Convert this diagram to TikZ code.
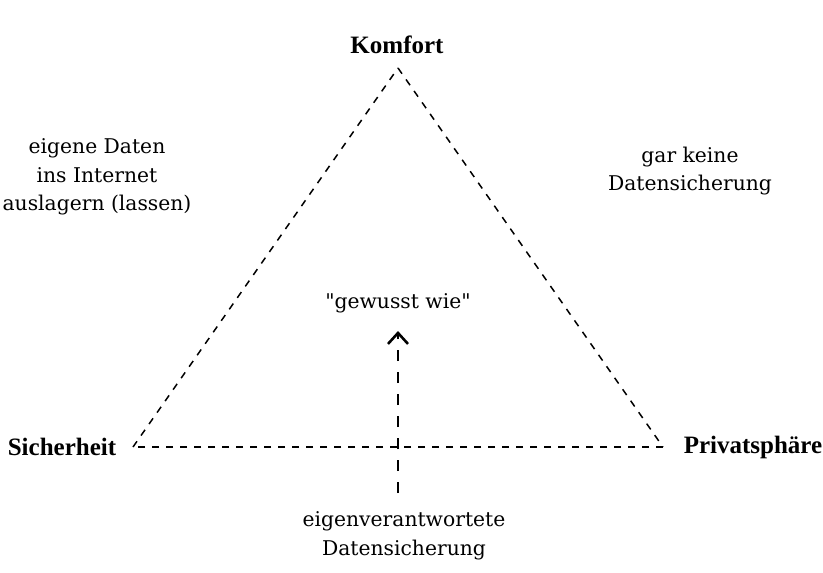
\documentclass[tikz,border=0pt]{standalone}
\usepackage{fontspec}
\setmainfont{DejaVu Serif}[Ligatures=TeXOff]
\newfontfamily\boldlab{Liberation Serif}
\usetikzlibrary{arrows.meta}
\tikzset{
  lab/.style={font=\fontsize{20.3}{28.5}\selectfont, align=center, inner sep=0pt},
  corner/.style={font=\boldlab\bfseries\fontsize{25}{30}\selectfont, inner sep=0pt},
  edge/.style={line width=1.5pt, dash pattern=on 7pt off 7pt},
  uparrow/.style={line width=2.6pt, dash pattern=on 11pt off 11pt, -{Straight Barb[length=11pt,width=20pt,line width=2.6pt]}},
}
\begin{document}
\begin{tikzpicture}[x=1pt,y=-1pt]
\useasboundingbox (0,0) rectangle (823,573);
\coordinate (A) at (398,68);
\coordinate (L) at (133,447);
\coordinate (R) at (663,447);
\coordinate (S) at (398,493);
\coordinate (T) at (398,331);
\draw[edge] (L) -- (A);
\draw[edge] (A) -- (R);
\draw[edge] (R) -- (L);
\draw[uparrow] (S) -- (T);
\node[corner] (komfort) at (397,45) {Komfort};
\node[corner] (sicher) at (62,447) {Sicherheit};
\node[corner] (privat) at (753,447) {Privatsphäre};
\node[lab] (cloud) at (97,177) {eigene Daten\\ins Internet\\auslagern (lassen)};
\node[lab] (keine) at (690,171) {gar keine\\Datensicherung};
\node[lab] (gewusst) at (398,303) {"gewusst wie"};
\node[lab] (eigen) at (404,536) {eigenverantwortete\\Datensicherung};
\end{tikzpicture}
\end{document}
